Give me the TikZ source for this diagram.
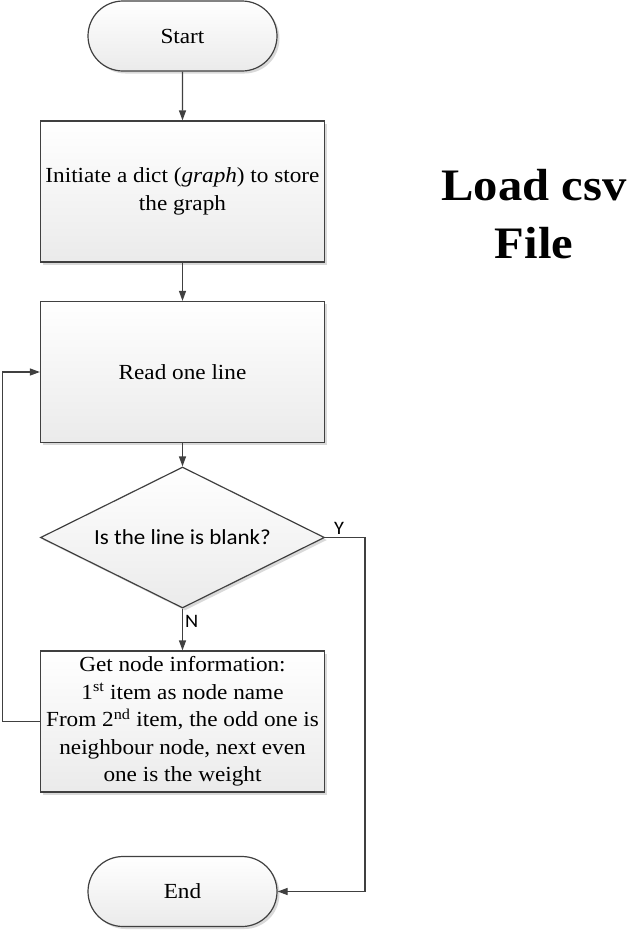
\documentclass[tikz,border=0pt]{standalone}
\usepackage{fontspec}
\setmainfont[FakeStretch=1.08]{Liberation Serif}
\newfontfamily\calibri[FakeStretch=1.07]{Carlito}
\usetikzlibrary{shapes.geometric,shapes.misc,arrows.meta,shadows}
\definecolor{edge}{HTML}{404040}
\tikzset{
  shape base/.style={draw=edge, line width=1.2pt, top color=white, bottom color=black!8,
    drop shadow={shadow xshift=2.5pt, shadow yshift=-2.5pt, opacity=.15, fill=black},
    align=center, inner sep=0pt},
  box/.style={shape base, minimum width=284pt, minimum height=141pt,
    font=\fontsize{21.5}{27.5}\selectfont},
  term/.style={shape base, rounded rectangle, minimum width=189pt, minimum height=70pt,
    font=\fontsize{21.5}{24}\selectfont},
  test/.style={shape base, diamond, aspect=2, minimum width=284pt, minimum height=141pt,
    font=\calibri\fontsize{21.5}{24}\selectfont},
  flow/.style={draw=edge, line width=1.2pt, -{Triangle[length=10pt,width=7pt]}},
  tag/.style={font=\calibri\fontsize{19}{20}\selectfont, inner sep=2pt}
}
\begin{document}
\begin{tikzpicture}[x=1pt,y=-1pt]
\useasboundingbox (0,0) rectangle (643,930);
% flow chart
\node[term] (start) at (182.5,36) {Start};
\node[box] (init) at (182.5,191.5) {Initiate a dict (\textit{graph}) to store\\the graph};
\node[box] (read) at (182.5,372) {Read one line};
\node[test] (blank) at (182.5,537.5) {Is the line is blank?};
\node[box] (info) at (182.5,721.5) {Get node information:\\1\textsuperscript{st} item as node name\\From 2\textsuperscript{nd} item, the odd one is\\neighbour node, next even\\one is the weight};
\node[term] (stop) at (182.5,891.5) {End};
\node[font=\bfseries\fontsize{45}{58}\selectfont, align=center] (title) at (534,214) {Load csv\\File};
\coordinate (yturn) at (365,537.5);
\coordinate (nturn) at (2.5,721.5);
% connectors
\draw[flow] (start) -- (init);
\draw[flow] (init) -- (read);
\draw[flow] (read) -- (blank);
\draw[flow] (blank) -- node[tag, right, pos=.3] {N} (info);
\draw[flow] (blank.east) -- node[tag, above, pos=.35] {Y} (yturn) |- (stop.east);
\draw[flow] (info.west) -- (nturn) |- (read.west);
\end{tikzpicture}
\end{document}
